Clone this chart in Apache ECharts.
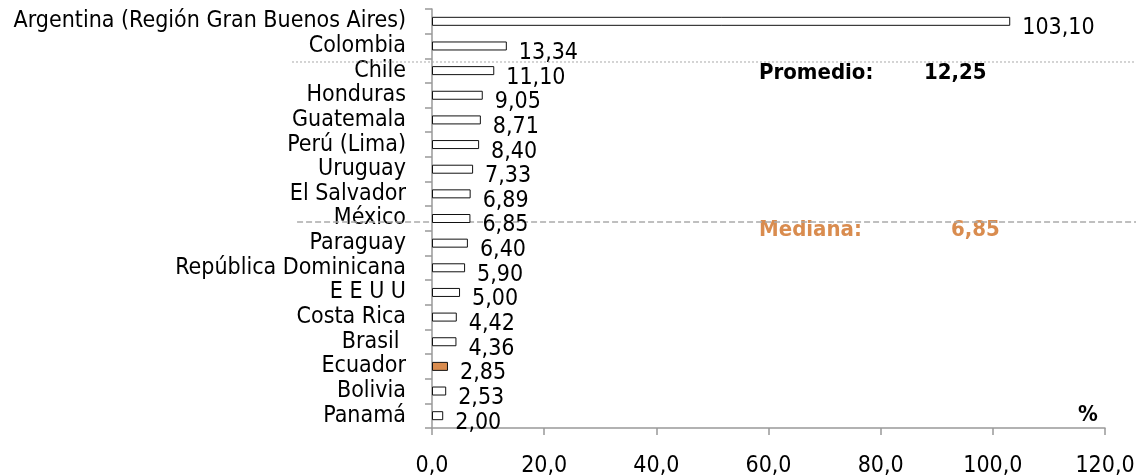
<!DOCTYPE html>
<html><head><meta charset="utf-8">
<script src="https://cdn.jsdelivr.net/npm/echarts@6/dist/echarts.min.js"></script>
<style>html,body{margin:0;padding:0;background:#fff}#c{width:1136px;height:475px}</style>
</head><body><div id="c"></div>
<script>
const categories = ["Argentina (Región Gran Buenos Aires)","Colombia","Chile","Honduras","Guatemala","Perú (Lima)","Uruguay","El Salvador","México","Paraguay","República Dominicana","E E U U","Costa Rica","Brasil ","Ecuador","Bolivia","Panamá"];
const values = [103.10,13.34,11.10,9.05,8.71,8.40,7.33,6.89,6.85,6.40,5.90,5.00,4.42,4.36,2.85,2.53,2.00];
const highlight = "Ecuador";
const xTicks = [0,20,40,60,80,100,120];
const promedio = 12.25;
const mediana = 6.85;

const FONT = "'DejaVu Sans Condensed','Liberation Sans Narrow',sans-serif";
const fmt = v => v.toFixed(2).replace('.', ',');
const chart = echarts.init(document.getElementById('c'));
chart.setOption({
  animation:false,
  backgroundColor:'#fff',
  grid:[
    {left:432,right:31,top:9,bottom:47,outerBoundsMode:'none',containLabel:false},
    {left:292,right:0,top:9,bottom:47,outerBoundsMode:'none',containLabel:false}
  ],
  xAxis:[
    {gridIndex:0,type:'value',min:xTicks[0],max:xTicks[xTicks.length-1],interval:20,
     axisLine:{show:true,lineStyle:{color:'#999',width:1.5}},
     axisTick:{show:true,length:7,lineStyle:{color:'#999',width:1.5}},
     splitLine:{show:false},
     axisLabel:{margin:27,fontFamily:FONT,fontSize:23,color:'#000',formatter:v=>v.toFixed(1).replace('.',',')}},
    {gridIndex:1,type:'value',min:0,max:1,show:false}
  ],
  yAxis:[
    {gridIndex:0,type:'category',data:categories,inverse:true,
     axisLine:{show:true,lineStyle:{color:'#999',width:1.5}},
     axisTick:{show:true,inside:false,length:7,interval:0,lineStyle:{color:'#999',width:1.5}},
     axisLabel:{interval:0,margin:26,fontFamily:FONT,fontSize:23,color:'#000',lineHeight:23}},
    {gridIndex:1,type:'value',min:0,max:categories.length,inverse:true,show:false}
  ],
  series:[
    {type:'line',xAxisIndex:1,yAxisIndex:1,symbol:'none',z:1,silent:true,
     data:[[0,2.15],[1,2.15]],lineStyle:{color:'#aaa',width:1,type:[2,2]}},
    {type:'line',xAxisIndex:1,yAxisIndex:1,symbol:'none',z:1,silent:true,
     data:[[0.006,8.64],[1,8.64]],lineStyle:{color:'#aaa',width:1.5,type:[6,3]}},
    {type:'bar',xAxisIndex:0,yAxisIndex:0,barWidth:9,z:3,
     data:values.map((v,i)=>({value:v,itemStyle:{color:categories[i]===highlight?'#d98c4f':'#fff',borderColor:'#111',borderWidth:1}})),
     label:{show:true,position:'right',distance:12,offset:[0,7],fontFamily:FONT,fontSize:23,color:'#000',formatter:p=>fmt(p.value)}}
  ],
  graphic:[
    {type:'text',left:759,top:62,style:{text:'Promedio:',font:"bold 22px "+FONT,fill:'#000'}},
    {type:'text',left:924,top:62,style:{text:fmt(promedio),font:"bold 22px "+FONT,fill:'#000'}},
    {type:'text',left:759,top:219,style:{text:'Mediana:',font:"bold 22px "+FONT,fill:'#d98c4f'}},
    {type:'text',left:951,top:219,style:{text:fmt(mediana),font:"bold 22px "+FONT,fill:'#d98c4f'}},
    {type:'text',left:1078,top:404,style:{text:'%',font:"bold 22px "+FONT,fill:'#000'}}
  ]
});
</script></body></html>
